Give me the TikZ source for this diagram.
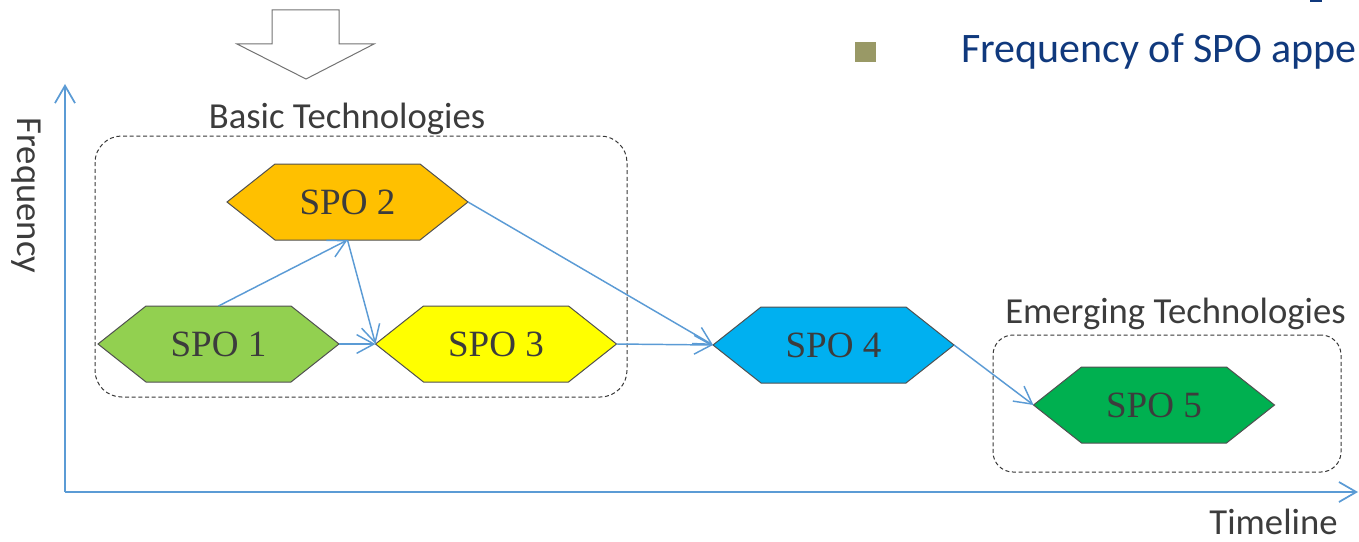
\documentclass[tikz,border=0pt]{standalone}
\usepackage{fontspec}
\setmainfont{Liberation Serif}
\newfontfamily\calfont{Carlito}
\usetikzlibrary{arrows.meta,backgrounds}
\definecolor{connblue}{RGB}{91,155,213}
\definecolor{txtgray}{RGB}{60,60,60}
\definecolor{hexline}{RGB}{80,80,80}
\definecolor{boxgray}{RGB}{55,55,55}
\definecolor{cA}{RGB}{146,208,80}
\definecolor{cB}{RGB}{255,192,0}
\definecolor{cC}{RGB}{255,255,0}
\definecolor{cD}{RGB}{0,176,240}
\definecolor{cE}{RGB}{0,176,80}
\definecolor{titleblue}{RGB}{16,57,125}
\definecolor{bulletolive}{RGB}{153,153,102}
\begin{document}
\begin{tikzpicture}[x=0.75pt,y=-0.75pt,
  spobox/.style={rectangle, draw=none, minimum width=180.75pt, minimum height=57pt,
    inner sep=0pt, outer sep=0pt, text=txtgray, font=\fontsize{27.8}{33}\selectfont},
  hexshape/.style={draw=hexline, line width=0.75pt, line join=miter},
  link/.style={draw=connblue, line width=1.1pt,
    -{Straight Barb[length=13pt,width=14pt,line width=1.1pt]}},
  axis/.style={draw=connblue, line width=1.5pt,
    -{Straight Barb[length=13pt,width=15pt,line width=1.3pt]}},
  dashbox/.style={rectangle, draw=boxgray, line width=0.75pt, dash pattern=on 3pt off 2pt,
    inner sep=0pt, outer sep=0pt},
  lbl/.style={text=txtgray, font=\calfont\fontsize{27.5}{33}\selectfont, inner sep=0pt}
]
\useasboundingbox (0,0) rectangle (1359,542);

% top block arrow
\filldraw[draw=gray!90!black, fill=white, line width=0.75pt, line join=miter]
  (272,10) -- (339,10) -- (339,44) -- (374,44) -- (306,79) -- (237,44) -- (272,44) -- cycle;

% title fragments
\fill[titleblue] (1310,0) rectangle (1322,2);
\fill[bulletolive] (855,42) rectangle (876,62);
\node[anchor=base west, inner sep=0pt, text=titleblue, font=\calfont\fontsize{31.5}{38}\selectfont]
  (title) at (961,63) {Frequency of SPO appe};

% axes
\coordinate (origin) at (65,492);
\coordinate (ytop) at (65,84);
\coordinate (xend) at (1358,492);
\draw[axis] (origin) -- (ytop);
\draw[axis] (origin) -- (xend);
\node[lbl, anchor=base, rotate=-90] (freq) at (17,195.5) {Frequency};
\node[lbl, anchor=base] (timeline) at (1273.5,534) {Timeline};

% group boxes
\node[dashbox, rounded corners=20pt, minimum width=399pt, minimum height=195.75pt]
  (basic) at (361,266.5) {};
\node[dashbox, rounded corners=15pt, minimum width=261pt, minimum height=102.75pt]
  (emerging) at (1167,403.5) {};
\node[lbl, anchor=base] (basiclbl) at (347,128) {Basic Technologies};
\node[lbl, anchor=base] (emerglbl) at (1175.5,323) {Emerging Technologies};

% SPO nodes
\node[spobox] (s1) at (218.5,344) {SPO 1};
\node[spobox] (s2) at (347.5,202) {SPO 2};
\node[spobox] (s3) at (496,344) {SPO 3};
\node[spobox] (s4) at (833.5,345) {SPO 4};
\node[spobox] (s5) at (1154,405) {SPO 5};

\begin{scope}[on background layer]
\foreach \n/\c in {s1/cA, s2/cB, s3/cC, s4/cD, s5/cE}
  \filldraw[hexshape, fill=\c] (\n.west) -- ([xshift=36pt]\n.north west)
    -- ([xshift=-36pt]\n.north east) -- (\n.east)
    -- ([xshift=-36pt]\n.south east) -- ([xshift=36pt]\n.south west) -- cycle;
\end{scope}

% connectors
\draw[link] (s1.north) -- (s2.south);
\draw[link] (s2.south) -- (s3.west);
\draw[link] (s1.east) -- (s3.west);
\draw[link] (s2.east) -- (s4.west);
\draw[link] (s3.east) -- (s4.west);
\draw[link] (s4.east) -- (s5.west);
\end{tikzpicture}
\end{document}
